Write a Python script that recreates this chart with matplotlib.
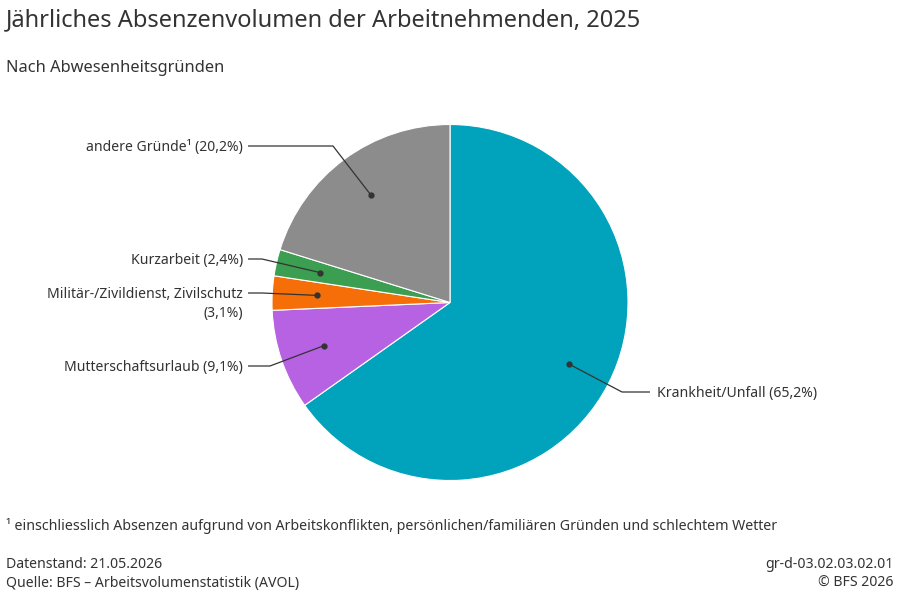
import numpy as np
import matplotlib.pyplot as plt

plt.rcParams['font.family'] = ['Noto Sans', 'DejaVu Sans']

categories = ["Krankheit/Unfall", "Mutterschaftsurlaub", "Militär-/Zivildienst, Zivilschutz",
              "Kurzarbeit", "andere Gründe¹"]
shares = [65.2, 9.1, 3.1, 2.4, 20.2]
colors = ["#00A3BB", "#B762E3", "#F66E07", "#3C9E50", "#8C8C8C"]
label_texts = ["Krankheit/Unfall (65,2%)", "Mutterschaftsurlaub (9,1%)",
               "Militär-/Zivildienst, Zivilschutz\n(3,1%)", "Kurzarbeit (2,4%)",
               "andere Gründe¹ (20,2%)"]

# label layout in pixels: (text y, elbow x, side)
label_layout = [(392, 622, 'right'), (366, 270, 'left'), (293, 262, 'left'),
                (259, 262, 'left'), (146, 333, 'left')]

W, H = 900, 599
fig = plt.figure(figsize=(9, 5.99), dpi=100)
ax = fig.add_axes([0, 0, 1, 1])

cx, cy, r = 450, H - 302.5, 178
wedges, _ = ax.pie(shares, colors=colors, startangle=90, counterclock=False,
                   center=(cx, cy), radius=r, frame=True,
                   wedgeprops=dict(edgecolor='white', linewidth=0.8))
ax.set_xlim(0, W)
ax.set_ylim(0, H)
ax.axis('off')

line_col = "#333333"
for w, txt, (ty, ex, side) in zip(wedges, label_texts, label_layout):
    ang = np.deg2rad((w.theta1 + w.theta2) / 2)
    dx, dy = cx + 0.75 * r * np.cos(ang), cy + 0.75 * r * np.sin(ang)
    ty = H - ty
    if side == 'left':
        hx, tx, ha = 248, 243, 'right'
    else:
        hx, tx, ha = 650, 657, 'left'
    ax.plot([dx, ex, hx], [dy, ty, ty], color=line_col, lw=0.9, solid_capstyle='butt')
    ax.plot(dx, dy, 'o', color=line_col, ms=3.5)
    for i, ln in enumerate(txt.split("\n")):
        ax.text(tx, ty - 1.5 - i * 19, ln, ha=ha, va='center', fontsize=10.1, color="#333333")

ax.text(6, H - 20, "Jährliches Absenzenvolumen der Arbeitnehmenden, 2025",
        fontsize=17, color="#333333", va='center', ha='left')
ax.text(6, H - 68, "Nach Abwesenheitsgründen", fontsize=11.8, color="#333333",
        va='center', ha='left')
ax.text(6, H - 526, "¹ einschliesslich Absenzen aufgrund von Arbeitskonflikten, persönlichen/familiären Gründen und schlechtem Wetter",
        fontsize=10.2, color="#333333", va='center', ha='left')
ax.text(6, H - 564.5, "Datenstand: 21.05.2026", fontsize=10.15, color="#333333", va='center')
ax.text(6, H - 583.5, "Quelle: BFS – Arbeitsvolumenstatistik (AVOL)", fontsize=10.15,
        color="#333333", va='center')
ax.text(893, H - 564.5, "gr-d-03.02.03.02.01", fontsize=10.15, color="#333333",
        va='center', ha='right')
ax.text(893, H - 583.5, "© BFS 2026", fontsize=10.15, color="#333333", va='center', ha='right')

fig.savefig("out.png", dpi=100)
